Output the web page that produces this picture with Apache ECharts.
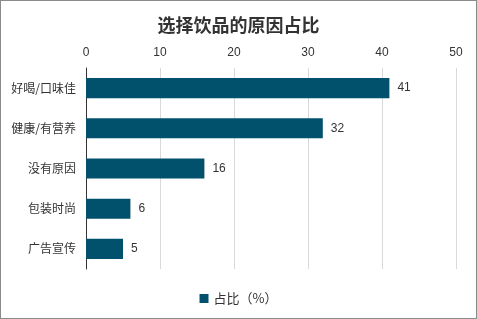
<!DOCTYPE html>
<html><head><meta charset="utf-8">
<script src="https://cdn.jsdelivr.net/npm/echarts@6/dist/echarts.min.js"></script>
<style>
html,body{margin:0;padding:0;background:#fff;}
#c{position:absolute;left:0;top:0;width:475px;height:317px;border:1px solid #8a8a8a;}
</style></head><body>
<div id="c"></div>
<script>
var titleText = '选择饮品的原因占比';
var categories = ['好喝/口味佳','健康/有营养','没有原因','包装时尚','广告宣传'];
var values = [41, 32, 16, 6, 5];
var seriesName = '占比（%）';
var chart = echarts.init(document.getElementById('c'));
var font = '"Microsoft YaHei","Noto Sans CJK SC",sans-serif';
chart.setOption({
  animation:false,
  title:{text:titleText,left:'center',top:10,textStyle:{fontSize:18,fontWeight:'bold',color:'#333',fontFamily:font}},
  legend:{bottom:8,left:'center',itemWidth:9,itemHeight:9,icon:'rect',itemGap:6,textStyle:{fontSize:13,color:'#333',fontFamily:font},data:[seriesName]},
  grid:{left:85,right:20,top:67,bottom:49,containLabel:false},
  xAxis:{type:'value',position:'top',min:0,max:50,interval:10,
    axisLine:{show:false},axisTick:{show:false},
    splitLine:{lineStyle:{color:'#d9d9d9'}},
    axisLabel:{fontSize:12,color:'#333',margin:9,fontFamily:'Arial, Liberation Sans, sans-serif'}},
  yAxis:{type:'category',data:categories,inverse:true,
    axisLine:{lineStyle:{color:'#333'}},axisTick:{show:false},
    axisLabel:{fontSize:12,color:'#333',margin:10,fontFamily:font}},
  series:[{name:seriesName,type:'bar',data:values,barWidth:'50%',
    itemStyle:{color:'#02516C'},
    label:{show:true,position:'right',distance:8,fontSize:12,color:'#333',fontFamily:'Arial, Liberation Sans, sans-serif'}}]
});
</script></body></html>
